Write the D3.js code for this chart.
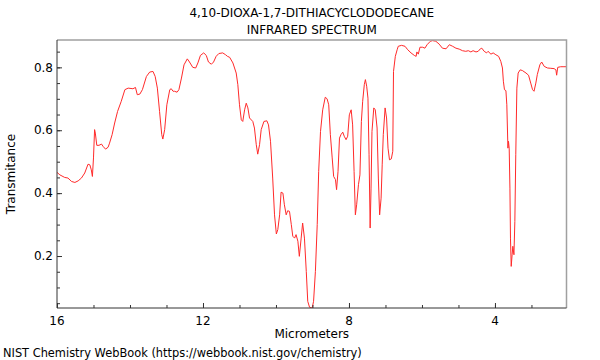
<script src="https://d3js.org/d3.v7.min.js"></script>
<style>
  body { margin: 0; background: #fff; }
  svg { font-family: "DejaVu Sans", sans-serif; }
</style>
<svg id="chart" width="600" height="360"></svg>
<script>
const titleLines = ["4,10-DIOXA-1,7-DITHIACYCLODODECANE", "INFRARED SPECTRUM"];
const xLabel = "Micrometers";
const yLabel = "Transmitance";
const footer = "NIST Chemistry WebBook (https://webbook.nist.gov/chemistry)";

const xTicks = [16, 12, 8, 4];
const yTicks = [0.2, 0.4, 0.6, 0.8];

// wavelength (micrometers)
const wavelength = [
  16.0, 15.92, 15.79, 15.70, 15.60, 15.51, 15.42, 15.33, 15.24, 15.15, 15.10, 15.06, 15.03, 15.00,
  14.97, 14.95, 14.91, 14.85, 14.78, 14.74, 14.67, 14.60, 14.56, 14.49, 14.42, 14.34, 14.24, 14.14,
  14.05, 13.92, 13.85, 13.80, 13.73, 13.66, 13.55, 13.46, 13.37, 13.31, 13.25, 13.19, 13.13, 13.10,
  13.05, 12.99, 12.91, 12.87, 12.82, 12.78, 12.71, 12.66, 12.59, 12.52, 12.43, 12.37, 12.28, 12.20,
  12.14, 12.07, 11.98, 11.91, 11.85, 11.77, 11.71, 11.64, 11.565, 11.46, 11.38, 11.33, 11.27, 11.18,
  11.09, 11.045, 11.00, 10.95, 10.91, 10.86, 10.815, 10.77, 10.725, 10.635, 10.59, 10.54, 10.50, 10.45,
  10.405, 10.33, 10.25, 10.205, 10.15, 10.09, 10.04, 9.99, 9.95, 9.90, 9.86, 9.81, 9.77, 9.72,
  9.68, 9.63, 9.58, 9.54, 9.49, 9.45, 9.40, 9.36, 9.31, 9.27, 9.22, 9.17, 9.13, 9.08,
  9.01, 8.97, 8.92, 8.87, 8.83, 8.78, 8.72, 8.65, 8.60, 8.555, 8.51, 8.46, 8.42, 8.37,
  8.34, 8.30, 8.26, 8.22, 8.17, 8.13, 8.08, 8.035, 7.99, 7.94, 7.90, 7.86, 7.825, 7.79,
  7.74, 7.70, 7.66, 7.625, 7.58, 7.55, 7.515, 7.48, 7.45, 7.42, 7.395, 7.37, 7.32, 7.28,
  7.23, 7.195, 7.16, 7.12, 7.09, 7.06, 7.01, 6.97, 6.93, 6.89, 6.84, 6.80, 6.78, 6.73,
  6.68, 6.65, 6.56, 6.465, 6.39, 6.30, 6.21, 6.16, 6.14, 6.10, 6.055, 5.98, 5.92, 5.86,
  5.77, 5.71, 5.62, 5.53, 5.44, 5.34, 5.25, 5.16, 5.07, 4.98, 4.89, 4.80, 4.73, 4.66,
  4.60, 4.52, 4.46, 4.40, 4.36, 4.295, 4.23, 4.19, 4.11, 4.05, 3.975, 3.90, 3.84, 3.795,
  3.77, 3.74, 3.70, 3.675, 3.645, 3.63, 3.61, 3.59, 3.575, 3.555, 3.53, 3.51, 3.48, 3.455,
  3.43, 3.40, 3.365, 3.31, 3.25, 3.15, 3.08, 3.02, 2.97, 2.93, 2.88, 2.84, 2.77, 2.72,
  2.65, 2.56, 2.47, 2.38, 2.33, 2.31, 2.28, 2.20, 2.11, 2.04
];
const transmittance = [
  0.466, 0.458, 0.450, 0.448, 0.437, 0.434, 0.439, 0.448, 0.464, 0.492, 0.490, 0.474, 0.453, 0.512,
  0.602, 0.591, 0.552, 0.552, 0.556, 0.549, 0.540, 0.546, 0.559, 0.586, 0.623, 0.660, 0.692, 0.729,
  0.734, 0.732, 0.736, 0.713, 0.715, 0.729, 0.771, 0.785, 0.787, 0.771, 0.734, 0.660, 0.586, 0.572,
  0.602, 0.681, 0.729, 0.732, 0.724, 0.724, 0.721, 0.729, 0.766, 0.808, 0.827, 0.817, 0.800, 0.798,
  0.814, 0.838, 0.846, 0.838, 0.817, 0.810, 0.817, 0.835, 0.844, 0.846, 0.840, 0.835, 0.832, 0.814,
  0.782, 0.745, 0.681, 0.633, 0.628, 0.665, 0.686, 0.671, 0.639, 0.628, 0.607, 0.554, 0.524, 0.554,
  0.602, 0.628, 0.630, 0.617, 0.565, 0.448, 0.331, 0.270, 0.284, 0.331, 0.403, 0.400, 0.363, 0.331,
  0.344, 0.342, 0.300, 0.263, 0.257, 0.268, 0.247, 0.199, 0.257, 0.305, 0.257, 0.151, 0.056, 0.037,
  0.034, 0.056, 0.151, 0.300, 0.469, 0.596, 0.665, 0.705, 0.700, 0.681, 0.586, 0.512, 0.453, 0.443,
  0.411, 0.469, 0.575, 0.586, 0.594, 0.581, 0.570, 0.581, 0.649, 0.665, 0.617, 0.469, 0.331, 0.363,
  0.427, 0.458, 0.628, 0.692, 0.745, 0.761, 0.740, 0.702, 0.522, 0.289, 0.416, 0.596, 0.671, 0.665,
  0.607, 0.448, 0.331, 0.384, 0.490, 0.586, 0.671, 0.639, 0.543, 0.506, 0.509, 0.533, 0.787, 0.835,
  0.856, 0.867, 0.870, 0.867, 0.856, 0.846, 0.838, 0.835, 0.849, 0.842, 0.864, 0.864, 0.861, 0.872,
  0.883, 0.885, 0.883, 0.874, 0.861, 0.859, 0.872, 0.867, 0.861, 0.858, 0.853, 0.851, 0.853, 0.849,
  0.853, 0.849, 0.851, 0.859, 0.861, 0.851, 0.846, 0.851, 0.842, 0.846, 0.840, 0.835, 0.819, 0.798,
  0.756, 0.729, 0.726, 0.681, 0.543, 0.565, 0.543, 0.416, 0.257, 0.167, 0.204, 0.231, 0.204, 0.310,
  0.522, 0.734, 0.782, 0.792, 0.790, 0.782, 0.775, 0.750, 0.729, 0.724, 0.750, 0.777, 0.808, 0.817,
  0.803, 0.798, 0.797, 0.796, 0.792, 0.775, 0.800, 0.802, 0.802, 0.802
];

const svg = d3.select("#chart");
const mLeft = 57, mRight = 566.5, mTop = 40, mBottom = 308;

const x = d3.scaleLinear().domain([16, 2.04]).range([mLeft, mRight]);
const y = d3.scaleLinear().domain([0.0347, 0.887]).range([mBottom, mTop]);

const points = wavelength.map((w, i) => [w, transmittance[i]]);

svg.append("clipPath").attr("id", "clip")
  .append("rect").attr("x", mLeft).attr("y", mTop).attr("width", mRight - mLeft).attr("height", mBottom - mTop);

// spectrum
svg.append("path")
  .datum(points)
  .attr("clip-path", "url(#clip)")
  .attr("fill", "none")
  .attr("stroke", "#ff2a2a")
  .attr("stroke-width", 1)
  .attr("stroke-linejoin", "round")
  .attr("d", d3.line().x(d => x(d[0])).y(d => y(d[1])));

// frame top / right
svg.append("path")
  .attr("d", `M${mLeft},${mTop}H${mRight}V${mBottom}`)
  .attr("fill", "none").attr("stroke", "#a0a0a0").attr("stroke-width", 1.5);

// y axis
svg.append("g").attr("transform", `translate(${mLeft},0)`)
  .call(d3.axisRight(y).tickValues(yTicks).tickSize(5).tickFormat(""))
  .call(g => g.select(".domain").remove());
svg.append("g").attr("transform", `translate(${mLeft},0)`)
  .call(d3.axisRight(y).tickValues(d3.range(0.05, 0.886, 0.05)).tickSize(3).tickFormat(""))
  .call(g => g.select(".domain").remove());
svg.append("g").selectAll("text").data(yTicks).join("text")
  .attr("x", 53).attr("y", d => y(d)).attr("dy", "0.35em")
  .attr("text-anchor", "end").attr("font-size", 12).text(d => d3.format(".1f")(d));

// x axis
svg.append("g").attr("transform", `translate(0,${mBottom})`)
  .call(d3.axisTop(x).tickValues(xTicks).tickSize(5).tickFormat(""))
  .call(g => g.select(".domain").remove());
svg.append("g").attr("transform", `translate(0,${mBottom})`)
  .call(d3.axisTop(x).tickValues(d3.range(15, 2, -1)).tickSize(3).tickFormat(""))
  .call(g => g.select(".domain").remove());
svg.append("g").selectAll("text").data(xTicks).join("text")
  .attr("x", d => x(d)).attr("y", 325)
  .attr("text-anchor", "middle").attr("font-size", 12).text(d => d);

svg.selectAll(".tick line").attr("stroke", "#333");

// left and bottom axis lines
svg.append("path")
  .attr("d", `M${mLeft},${mTop}V${mBottom}H${mRight}`)
  .attr("fill", "none").attr("stroke", "#333").attr("stroke-width", 1);

// titles and labels
svg.append("g").selectAll("text").data(titleLines).join("text")
  .attr("x", (mLeft + mRight) / 2).attr("y", (d, i) => 17 + i * 17)
  .attr("text-anchor", "middle").attr("font-size", 12).text(d => d);

svg.append("text")
  .attr("x", (mLeft + mRight) / 2).attr("y", 338)
  .attr("text-anchor", "middle").attr("font-size", 12).text(xLabel);

svg.append("text")
  .attr("transform", `translate(15,174) rotate(-90)`)
  .attr("text-anchor", "middle").attr("font-size", 12).text(yLabel);

svg.append("text")
  .attr("x", 3).attr("y", 357)
  .attr("font-size", 11.4).text(footer);
</script>
